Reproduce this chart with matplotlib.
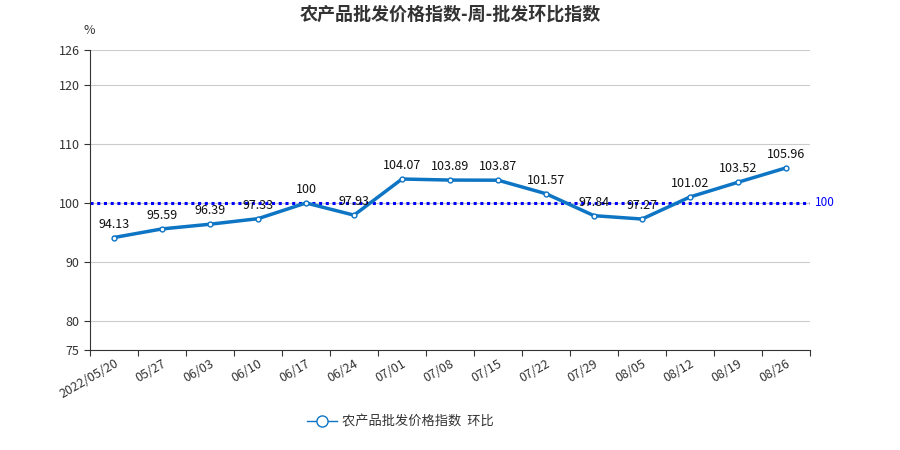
import matplotlib
matplotlib.use("Agg")
import matplotlib.pyplot as plt
from matplotlib.lines import Line2D

plt.rcParams['font.family'] = ['Noto Sans CJK SC', 'DejaVu Sans']

dates = ["2022/05/20", "05/27", "06/03", "06/10", "06/17", "06/24", "07/01",
         "07/08", "07/15", "07/22", "07/29", "08/05", "08/12", "08/19", "08/26"]
values = [94.13, 95.59, 96.39, 97.33, 100, 97.93, 104.07, 103.89, 103.87,
          101.57, 97.84, 97.27, 101.02, 103.52, 105.96]
yticks = [75, 80, 90, 100, 110, 120, 126]
baseline = 100
series_name = "农产品批发价格指数  环比"

fig = plt.figure(figsize=(9, 4.5), dpi=100)
ax = fig.add_axes([0.1, 0.222, 0.8, 0.667])

n = len(values)
x = list(range(n))
line_color = "#0e74c4"

ax.axhline(baseline, color="#0000ff", lw=2.2, ls=(0, (1, 1.2)), zorder=2)
ax.text(n - 0.5 + 0.1, baseline, str(baseline), color="#0000ff", fontsize=8.5,
        va="center", ha="left")

ax.plot(x, values, color=line_color, lw=2.5, marker="o", ms=3.5,
        mfc="white", mec=line_color, mew=1, zorder=3)
for xi, v in zip(x, values):
    ax.annotate(f"{v:g}", (xi, v), xytext=(0, 5), textcoords="offset points",
                ha="center", va="bottom", fontsize=9, color="#111111", zorder=4)

ax.set_xlim(-0.5, n - 0.5)
ax.set_ylim(75, 126)
ax.set_yticks(yticks)
ax.set_yticklabels([str(t) for t in yticks])
ax.set_xticks([i - 0.5 for i in range(n + 1)])
ax.set_xticklabels([])
ax.set_xticks(x, minor=True)
ax.set_xticklabels(dates, minor=True, rotation=30, ha="right",
                   rotation_mode="anchor", fontsize=9, color="#333333")
ax.tick_params(axis="x", which="minor", length=0, pad=5)
ax.tick_params(axis="x", which="major", length=4, color="#333333")
ax.tick_params(axis="y", length=4, labelsize=9, labelcolor="#333333", color="#333333")

ax.grid(axis="y", color="#cccccc", lw=0.8)
ax.set_axisbelow(True)
for s in ["top", "right"]:
    ax.spines[s].set_visible(False)
for s in ["left", "bottom"]:
    ax.spines[s].set_color("#333333")

fig.text(0.5, 0.968, "农产品批发价格指数-周-批发环比指数", ha="center", va="center",
         fontsize=13, fontweight="bold", color="#333333")
fig.text(0.093, 0.933, "%", ha="left", va="center", fontsize=9, color="#333333")

handle = Line2D([], [], color=line_color, lw=1, marker="o", ms=8,
                mfc="white", mec=line_color, mew=1)
fig.legend([handle], [series_name], loc="center", bbox_to_anchor=(0.445, 0.063),
           frameon=False, fontsize=9.5, handlelength=2.2, handletextpad=0.4,
           labelcolor="#333333")

fig.savefig("out.png", dpi=100)
